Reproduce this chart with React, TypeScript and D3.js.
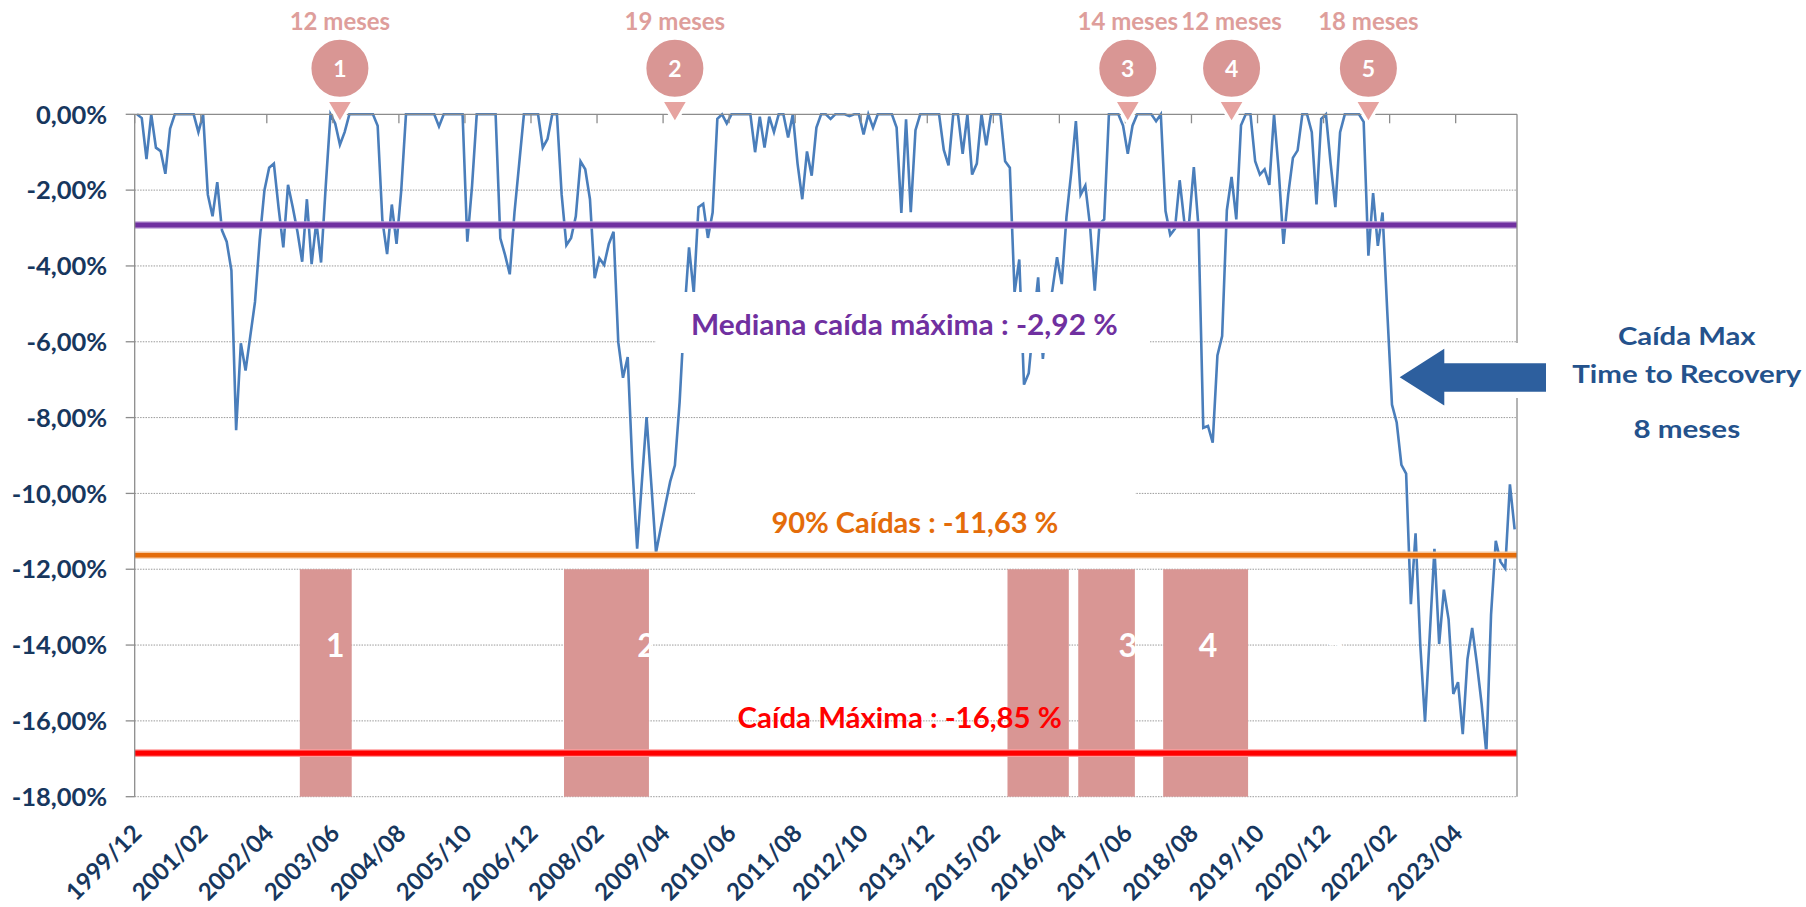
import React from "react";
import * as d3 from "d3";

// ---------- DATA ----------
const START_YEAR = 1999;
const START_MONTH = 12;

// Monthly drawdown (%) from 1999/12
const DRAWDOWN: number[] = [
  0, -0.10, -1.18, 0, -0.88, -0.97, -1.57, -0.38, 0, 0,
  0, 0, 0, -0.47, 0, -2.12, -2.69, -1.79, -3.06, -3.36,
  -4.12, -8.33, -6.04, -6.76, -5.85, -4.95, -3.30, -2.00, -1.41, -1.30,
  -2.47, -3.51, -1.86, -2.45, -3.10, -3.89, -2.24, -3.95, -2.83, -3.91,
  -1.88, 0, -0.24, -0.80, -0.47, 0, 0, 0, 0, 0,
  0, -0.30, -2.80, -3.69, -2.38, -3.42, -2.00, 0, 0, 0,
  0, 0, 0, 0, -0.32, 0, 0, 0, 0, 0,
  -3.36, -1.90, 0, 0, 0, 0, 0, -3.27, -3.71, -4.22,
  -2.59, -1.30, 0, 0, 0, 0, -0.88, -0.65, 0, 0,
  -2.12, -3.45, -3.26, -2.69, -1.24, -1.45, -2.24, -4.32, -3.80, -3.97,
  -3.42, -3.10, -6.01, -6.95, -6.40, -9.31, -11.46, -9.70, -7.99, -9.75,
  -11.56, -10.92, -10.30, -9.69, -9.26, -7.60, -5.30, -3.51, -4.71, -2.45,
  -2.36, -3.26, -2.59, -0.12, 0, -0.24, 0, 0, 0, 0,
  0, -1.00, -0.06, -0.88, -0.06, -0.47, 0, 0, -0.61, 0,
  -1.30, -2.24, -0.98, -1.62, -0.35, 0, 0, -0.12, 0, 0,
  0, -0.05, 0, 0, -0.53, 0, -0.35, 0, 0, 0,
  0, -0.35, -2.60, -0.13, -2.58, -0.42, 0, 0, 0, 0,
  0, -0.94, -1.35, 0, 0, -1.04, 0, -1.59, -1.30, 0,
  -0.82, 0, 0, 0, -1.24, -1.41, -4.70, -3.83, -7.13, -6.83,
  -5.50, -4.30, -6.45, -5.20, -4.65, -3.77, -4.48, -2.71, -1.55, -0.18,
  -2.12, -1.88, -2.94, -4.65, -2.89, -2.77, 0, 0, 0, -0.30,
  -1.04, -0.30, 0, 0, 0, 0, -0.18, 0, -2.55, -3.18,
  -3.02, -1.74, -2.86, -2.85, -1.39, -3.00, -8.27, -8.22, -8.66, -6.36,
  -5.85, -2.53, -1.65, -2.77, -0.29, 0, 0, -1.24, -1.59, -1.45,
  -1.86, 0, -1.50, -3.42, -2.12, -1.15, -0.95, 0, 0, -0.47,
  -2.38, -0.12, 0, -1.30, -2.45, -0.47, 0, 0, 0, 0,
  -0.20, -3.73, -2.08, -3.47, -2.59, -5.20, -7.66, -8.13, -9.25, -9.48,
  -12.92, -11.05, -14.00, -16.02, -13.75, -11.46, -13.97, -12.54, -13.32, -15.29,
  -14.98, -16.35, -14.37, -13.55, -14.49, -15.55, -16.85, -13.20, -11.25, -11.80,
  -11.98, -9.76, -10.95,
];

const TICK_LABELS = [
  "1999/12", "2001/02", "2002/04", "2003/06", "2004/08", "2005/10", "2006/12",
  "2008/02", "2009/04", "2010/06", "2011/08", "2012/10", "2013/12", "2015/02",
  "2016/04", "2017/06", "2018/08", "2019/10", "2020/12", "2022/02", "2023/04",
];

const Y_TICKS = [0, -2, -4, -6, -8, -10, -12, -14, -16, -18];

const MEDIAN_DD = -2.92;
const P90_DD = -11.63;
const MAX_DD = -16.85;

const MEDIAN_LABEL = "Mediana caída máxima : -2,92 %";
const P90_LABEL = "90% Caídas : -11,63 %";
const MAX_LABEL = "Caída Máxima : -16,85 %";

// recovery period bars
const BAR_STARTS = ["2002/11", "2007/07", "2015/05", "2016/08", "2018/02"];
const BAR_ENDS = ["2003/09", "2008/12", "2016/05", "2017/07", "2019/07"];
const BAR_TOP = -12;
const BAR_BOTTOM = -18;
const BAR_LABELS = ["1", "2", "3", "4", "5"];
const BAR_LABEL_DATES = ["2003/06", "2008/12", "2017/06", "2018/11", "2021/02"];
const BAR_LABEL_LEVEL = -14;

// pins
const PIN_DATES = ["2003/07", "2009/06", "2017/06", "2019/04", "2021/09"];
const PIN_NUMBERS = ["1", "2", "3", "4", "5"];
const PIN_MONTHS = [12, 19, 14, 12, 18];

const SIDE_TITLE = ["Caída Max", "Time to Recovery"];
const SIDE_VALUE = "8 meses";

// ---------- helpers ----------
const MONTHS: string[] = d3.range(DRAWDOWN.length).map((i) => {
  const t = START_MONTH - 1 + i;
  const yy = START_YEAR + Math.floor(t / 12);
  const mm = (t % 12) + 1;
  return `${yy}/${String(mm).padStart(2, "0")}`;
});

const fmtPct = (v: number) => `${v.toFixed(2).replace(".", ",")}%`;

const FONT = "Lato, 'Open Sans', 'DejaVu Sans', sans-serif";
const NAVY = "#17375E";
const PINK = "#D99694";
const PINK_LIGHT = "#E6A3A0";
const PINK_TEXT = "#DE9E9B";
const BLUE_LINE = "#4A7EBB";
const PURPLE = "#7030A0";
const ORANGE = "#E46C0A";
const RED = "#FF0000";
const AXIS = "#8C8C8C";
const GRID = "#9A9A9A";
const ARROW = "#2D5F9E";
const SIDE_TEXT = "#24528C";

export default function App() {
  const W = 1806;
  const H = 907;
  const plot = { left: 134.7, right: 1517, top: 114.3, bottom: 796.7 };

  const x = d3.scaleBand<string>().domain(MONTHS).range([plot.left, plot.right]).padding(0);
  const bw = x.bandwidth();
  const cx = (m: string) => (x(m) ?? 0) + bw / 2;
  const y = d3.scaleLinear().domain([-18, 0]).range([plot.bottom, plot.top]);

  const linePath =
    d3
      .line<number>()
      .x((_, i) => cx(MONTHS[i]))
      .y((d) => y(d))(DRAWDOWN) ?? "";

  const pinCY = 68.3;
  const pinR = 29.5;

  const statLine = (v: number, color: string, halo: string, width: number) => (
    <g>
      <line x1={plot.left} x2={plot.right} y1={y(v)} y2={y(v)} stroke={halo} strokeWidth={width + 2.6} />
      <line x1={plot.left} x2={plot.right} y1={y(v)} y2={y(v)} stroke={color} strokeWidth={width} />
    </g>
  );

  const arrowPts: [number, number][] = [
    [1396.9, 377.3],
    [1445.8, 346],
    [1445.8, 361.7],
    [1547.5, 361.7],
    [1547.5, 393.3],
    [1445.8, 393.3],
    [1445.8, 408.3],
  ];

  return (
    <svg
      width={W}
      height={H}
      viewBox={`0 0 ${W} ${H}`}
      style={{ position: "absolute", left: 0, top: 0, display: "block" }}
      fontFamily={FONT}
    >
      <rect x={0} y={0} width={W} height={H} fill="#fff" />

      {/* gridlines */}
      {Y_TICKS.filter((t) => t !== 0).map((t) => (
        <line
          key={"g" + t}
          x1={plot.left}
          x2={plot.right}
          y1={y(t)}
          y2={y(t)}
          stroke={GRID}
          strokeWidth={1}
          strokeDasharray="1.5 1.2"
        />
      ))}

      {/* recovery bars */}
      {BAR_STARTS.map((s, i) => {
        const x0 = x(s) ?? 0;
        const x1 = (x(BAR_ENDS[i]) ?? 0) + bw;
        return (
          <rect
            key={"b" + i}
            x={x0}
            y={y(BAR_TOP)}
            width={x1 - x0}
            height={y(BAR_BOTTOM) - y(BAR_TOP)}
            fill={PINK}
          />
        );
      })}
      {BAR_LABELS.map((l, i) => (
        <text
          key={"bl" + i}
          x={cx(BAR_LABEL_DATES[i])}
          y={y(BAR_LABEL_LEVEL) + 11.5}
          textAnchor="middle"
          fontSize={32}
          fontWeight={700}
          fill="#fff"
        >
          {l}
        </text>
      ))}

      {/* data line */}
      <path d={linePath} fill="none" stroke={BLUE_LINE} strokeWidth={2.6} strokeLinejoin="miter" />

      {/* white label boxes */}
      <rect x={656} y={292} width={494} height={61} fill="#fff" />
      <rect x={695} y={470} width={440} height={83} fill="#fff" />

      {/* stat lines */}
      {statLine(MEDIAN_DD, PURPLE, "#C3A6DA", 4.8)}
      {statLine(P90_DD, ORANGE, "#F6C79E", 4.6)}
      {statLine(MAX_DD, RED, "#FF9C9C", 5.2)}

      {/* stat labels */}
      <text x={691} y={335} fontSize={28} fontWeight={700} fill={PURPLE} textLength={426.7} lengthAdjust="spacingAndGlyphs">
        {MEDIAN_LABEL}
      </text>
      <text x={771.4} y={532.7} fontSize={28} fontWeight={700} fill={ORANGE} textLength={287} lengthAdjust="spacingAndGlyphs">
        {P90_LABEL}
      </text>
      <text x={737.6} y={728.3} fontSize={28} fontWeight={700} fill={RED} textLength={324.3} lengthAdjust="spacingAndGlyphs">
        {MAX_LABEL}
      </text>

      {/* axes */}
      <line x1={plot.left} x2={plot.right} y1={y(0)} y2={y(0)} stroke={AXIS} strokeWidth={1.3} />
      <line x1={plot.left} x2={plot.left} y1={y(0)} y2={y(-18)} stroke={AXIS} strokeWidth={1.3} />
      <line x1={plot.right} x2={plot.right} y1={y(0)} y2={y(-18)} stroke={AXIS} strokeWidth={1.3} />
      {Y_TICKS.map((t) => (
        <line key={"yt" + t} x1={plot.left - 9} x2={plot.left} y1={y(t)} y2={y(t)} stroke={AXIS} strokeWidth={1.3} />
      ))}
      {TICK_LABELS.map((l) => (
        <line key={"xt" + l} x1={x(l) ?? 0} x2={x(l) ?? 0} y1={y(0)} y2={y(0) + 9} stroke={AXIS} strokeWidth={1.3} />
      ))}

      {/* y labels */}
      {Y_TICKS.map((t) => (
        <text
          key={"yl" + t}
          x={107.2}
          y={y(t) + 9.2}
          textAnchor="end"
          fontSize={25.5}
          fontWeight={700}
          fill={NAVY}
        >
          {fmtPct(t)}
        </text>
      ))}

      {/* x labels */}
      {TICK_LABELS.map((l) => (
        <text
          key={"xl" + l}
          transform={`translate(${cx(l) + 6},${835}) rotate(-45)`}
          textAnchor="end"
          fontSize={24}
          fontWeight={700}
          fill={NAVY}
        >
          {l}
        </text>
      ))}

      {/* pins */}
      {PIN_DATES.map((d, i) => {
        const px = cx(d);
        return (
          <g key={"p" + i}>
            <polygon
              points={`${px - 13.4},${100.5} ${px + 13.4},${100.5} ${px},${123.3}`}
              fill={PINK_LIGHT}
              stroke="#fff"
              strokeWidth={3}
              strokeLinejoin="miter"
            />
            <circle cx={px} cy={pinCY} r={pinR} fill={PINK} stroke="#fff" strokeWidth={2} />
            <text x={px} y={pinCY + 8.5} textAnchor="middle" fontSize={23} fontWeight={700} fill="#fff">
              {PIN_NUMBERS[i]}
            </text>
            <text x={px} y={30} textAnchor="middle" fontSize={24} fontWeight={700} fill={PINK_TEXT}>
              {`${PIN_MONTHS[i]} meses`}
            </text>
          </g>
        );
      })}

      {/* arrow + side text */}
      <rect x={1512} y={343} width={10} height={55} fill="#fff" />
      <polygon
        points={arrowPts.map((p) => p.join(",")).join(" ")}
        fill={ARROW}
        stroke="#fff"
        strokeWidth={3}
        strokeLinejoin="miter"
      />
      <text x={1686.8} y={345} textAnchor="middle" fontSize={25.5} fontWeight={700} fill={SIDE_TEXT} textLength={137.7} lengthAdjust="spacingAndGlyphs">
        {SIDE_TITLE[0]}
      </text>
      <text x={1686.8} y={382.7} textAnchor="middle" fontSize={25.5} fontWeight={700} fill={SIDE_TEXT} textLength={229} lengthAdjust="spacingAndGlyphs">
        {SIDE_TITLE[1]}
      </text>
      <text x={1686.8} y={438.3} textAnchor="middle" fontSize={25.5} fontWeight={700} fill={SIDE_TEXT} textLength={106.7} lengthAdjust="spacingAndGlyphs">
        {SIDE_VALUE}
      </text>
    </svg>
  );
}
